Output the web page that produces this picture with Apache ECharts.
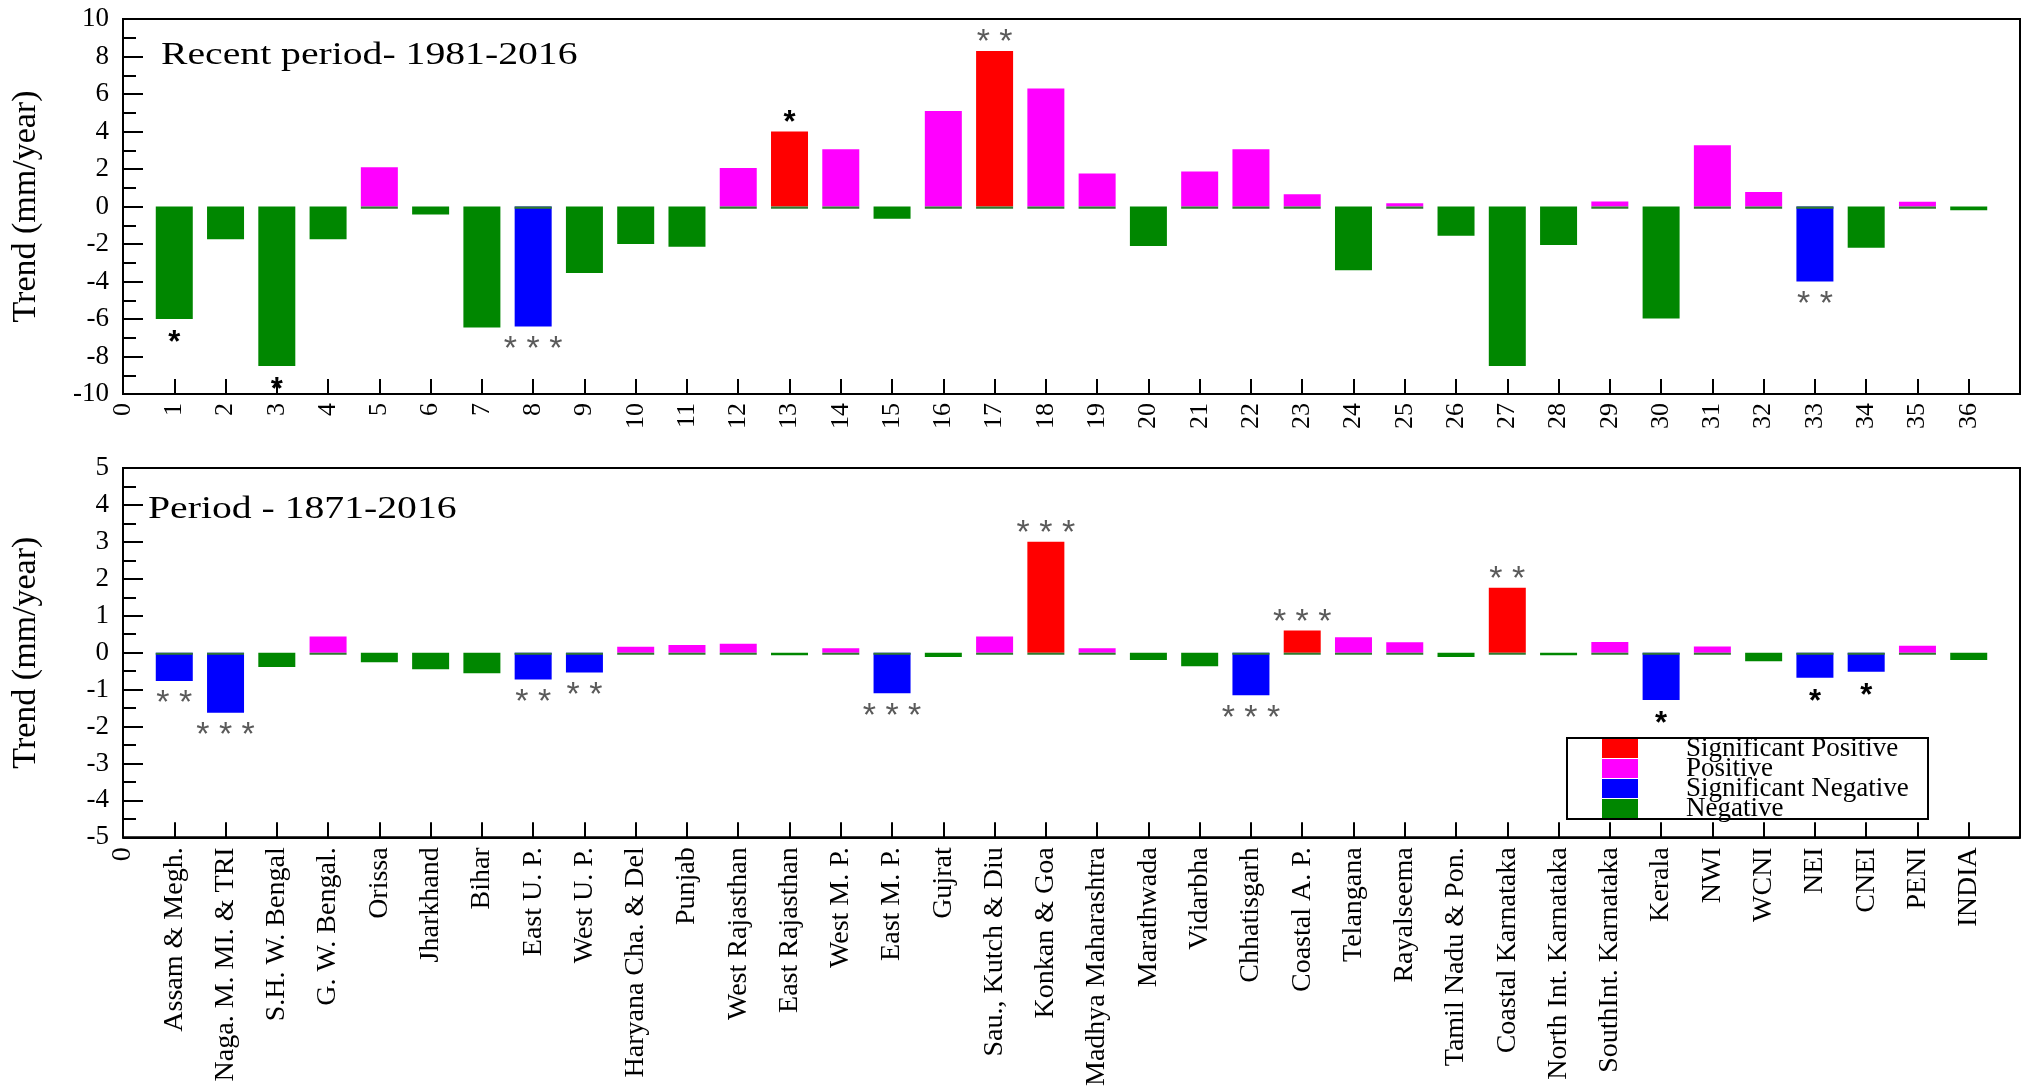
<!DOCTYPE html>
<html>
<head>
<meta charset="utf-8">
<script src="https://cdn.jsdelivr.net/npm/echarts@6/dist/echarts.min.js"></script>
<style>
  html, body { margin: 0; padding: 0; background: #fff; }
  #chart { width: 2026px; height: 1089px; }
</style>
</head>
<body>
<div id="chart"></div>
<script>
// Meteorological subdivisions and regions, in plotting order (1..36)
const subdivisions = [
  'Assam & Megh.', 'Naga. M. MI. & TRI', 'S.H. W. Bengal', 'G. W. Bengal.', 'Orissa',
  'Jharkhand', 'Bihar', 'East U. P.', 'West U. P.', 'Haryana Cha. & Del', 'Punjab',
  'West Rajasthan', 'East Rajasthan', 'West M. P.', 'East M. P.', 'Gujrat',
  'Sau., Kutch & Diu', 'Konkan & Goa', 'Madhya Maharashtra', 'Marathwada', 'Vidarbha',
  'Chhatisgarh', 'Coastal A. P.', 'Telangana', 'Rayalseema', 'Tamil Nadu & Pon.',
  'Coastal Karnataka', 'North Int. Karnataka', 'SouthInt. Karnataka', 'Kerala',
  'NWI', 'WCNI', 'NEI', 'CNEI', 'PENI', 'INDIA'
];

// Rainfall trend (mm/year), recent period 1981-2016
const recentTrend = [
  -6.0, -1.75, -8.5, -1.75, 2.1, -0.42, -6.45, -6.4, -3.55, -2.0, -2.15, 2.05,
  4.0, 3.05, -0.65, 5.1, 8.3, 6.3, 1.76, -2.1, 1.87, 3.05, 0.66, -3.4,
  0.18, -1.56, -8.5, -2.05, 0.27, -5.97, 3.27, 0.77, -4.0, -2.2, 0.25, -0.2
];
// Trend class: SP significant positive, P positive, SN significant negative, N negative
const recentClass = [
  'N', 'N', 'N', 'N', 'P', 'N', 'N', 'SN', 'N', 'N', 'N', 'P',
  'SP', 'P', 'N', 'P', 'SP', 'P', 'P', 'N', 'P', 'P', 'P', 'N',
  'P', 'N', 'N', 'N', 'P', 'N', 'P', 'P', 'SN', 'N', 'P', 'N'
];
const recentStars = [
  '*', '', '*', '', '', '', '', '***', '', '', '', '',
  '*', '', '', '', '**', '', '', '', '', '', '', '',
  '', '', '', '', '', '', '', '', '**', '', '', ''
];

// Rainfall trend (mm/year), full period 1871-2016
const longTrend = [
  -0.77, -1.63, -0.39, 0.44, -0.26, -0.45, -0.56, -0.73, -0.54, 0.16, 0.21, 0.24,
  -0.07, 0.12, -1.1, -0.12, 0.44, 3.0, 0.12, -0.2, -0.37, -1.15, 0.6, 0.42,
  0.28, -0.12, 1.76, -0.07, 0.29, -1.28, 0.17, -0.23, -0.68, -0.52, 0.19, -0.2
];
const longClass = [
  'SN', 'SN', 'N', 'P', 'N', 'N', 'N', 'SN', 'SN', 'P', 'P', 'P',
  'N', 'P', 'SN', 'N', 'P', 'SP', 'P', 'N', 'N', 'SN', 'SP', 'P',
  'P', 'N', 'SP', 'N', 'P', 'SN', 'P', 'N', 'SN', 'SN', 'P', 'N'
];
const longStars = [
  '**', '***', '', '', '', '', '', '**', '**', '', '', '',
  '', '', '***', '', '', '***', '', '', '', '***', '***', '',
  '', '', '**', '', '', '*', '', '', '*', '*', '', ''
];

const classOrder = ['SP', 'P', 'SN', 'N'];
const classNames = {
  SP: 'Significant Positive', P: 'Positive', SN: 'Significant Negative', N: 'Negative'
};
const classColors = { SP: '#ff0000', P: '#ff00ff', SN: '#0000ff', N: '#008700' };

const SERIF = '"Liberation Serif", "Times New Roman", serif';
const BAR_W = 37;

// significance markers: single bold black star, or a row of grey stars
function starLabel(star, v) {
  if (!star) return { show: false };
  const single = star.length === 1;
  const up = v >= 0;
  return {
    show: true,
    position: up ? 'top' : 'bottom',
    distance: up ? 0 : (single ? 9 : 6),
    offset: up ? [0, single ? 7 : 9] : [0, 0],
    formatter: star.split('').join(' '),
    fontFamily: '"Liberation Sans", Arial, sans-serif',
    fontSize: single ? 31 : 34,
    fontWeight: single ? 'bold' : 'normal',
    color: single ? '#000' : '#5a5a5a'
  };
}

function panelSeries(values, classes, stars, idx, stripDepth) {
  const list = classOrder.map(cls => ({
    name: classNames[cls],
    type: 'bar',
    xAxisIndex: idx,
    yAxisIndex: idx,
    barWidth: BAR_W,
    barGap: '-100%',
    itemStyle: { color: classColors[cls] },
    data: values
      .map((v, i) => classes[i] === cls
        ? { value: [i + 1, v], label: starLabel(stars[i], v) }
        : null)
      .filter(Boolean)
  }));
  // thin dark-green strip along the zero line under each coloured bar
  list.push({
    name: 'zero strip',
    type: 'bar',
    xAxisIndex: idx,
    yAxisIndex: idx,
    barWidth: BAR_W,
    barGap: '-100%',
    z: 3,
    silent: true,
    itemStyle: { color: '#2f7a2f' },
    data: values
      .map((v, i) => classes[i] !== 'N' ? [i + 1, -stripDepth] : null)
      .filter(Boolean)
  });
  return list;
}

function xAxisFor(idx, formatter, labelSize, margin) {
  return {
    type: 'value', gridIndex: idx, min: 0, max: 37, interval: 1,
    axisLine: { show: true, onZero: false, lineStyle: { color: '#000', width: 2 } },
    axisTick: { show: true, inside: true, length: 15, lineStyle: { color: '#000', width: 2 } },
    splitLine: { show: false },
    axisLabel: {
      rotate: 90, margin: margin, color: '#000', fontFamily: SERIF, fontSize: labelSize,
      showMaxLabel: false, formatter: formatter
    }
  };
}

function yAxisFor(idx, min, max, interval) {
  return {
    type: 'value', gridIndex: idx, min: min, max: max, interval: interval,
    name: 'Trend (mm/year)', nameLocation: 'middle', nameGap: 80,
    nameTextStyle: { fontFamily: SERIF, fontSize: 34, color: '#000' },
    axisLine: { show: true, lineStyle: { color: '#000', width: 2 } },
    axisTick: { show: true, inside: true, length: 20, lineStyle: { color: '#000', width: 2 } },
    minorTick: { show: true, splitNumber: 2, length: 13, lineStyle: { color: '#000', width: 2 } },
    splitLine: { show: false },
    axisLabel: { color: '#000', fontFamily: SERIF, fontSize: 27, margin: 14 }
  };
}

const chart = echarts.init(document.getElementById('chart'), null, { renderer: 'canvas' });

chart.setOption({
  animation: false,
  backgroundColor: '#fff',
  grid: [
    { left: 123, top: 19, width: 1897, height: 375, show: true, borderColor: '#000', borderWidth: 2 },
    { left: 123, top: 468, width: 1897, height: 374, show: true, borderColor: '#000', borderWidth: 2 }
  ],
  xAxis: [
    xAxisFor(0, v => String(v), 26, 9),
    xAxisFor(1, v => (v === 0 ? '0' : (subdivisions[v - 1] || '')), 28, 10)
  ],
  yAxis: [
    yAxisFor(0, -10, 10, 2),
    yAxisFor(1, -5, 5, 1)
  ],
  legend: {
    data: classOrder.map(c => classNames[c]),
    orient: 'vertical',
    left: 1567, top: 738,
    itemWidth: 36, itemHeight: 19, itemGap: -7,
    icon: 'rect',
    padding: [-3, 4, -3, 35],
    borderColor: '#000', borderWidth: 2,
    selectedMode: false,
    textStyle: {
      fontFamily: SERIF, fontSize: 27, lineHeight: 19, color: '#000',
      padding: [0, 0, 0, 43], width: 238
    }
  },
  graphic: [
    {
      type: 'text', x: 161, y: 56, scaleX: 1.28,
      style: { text: 'Recent period- 1981-2016', font: '31px ' + SERIF, fill: '#000', verticalAlign: 'middle' }
    },
    {
      type: 'text', x: 148, y: 510, scaleX: 1.28,
      style: { text: 'Period - 1871-2016', font: '31px ' + SERIF, fill: '#000', verticalAlign: 'middle' }
    }
  ],
  series: [
    ...panelSeries(recentTrend, recentClass, recentStars, 0, 0.12),
    ...panelSeries(longTrend, longClass, longStars, 1, 0.06)
  ]
});
</script>
</body>
</html>
